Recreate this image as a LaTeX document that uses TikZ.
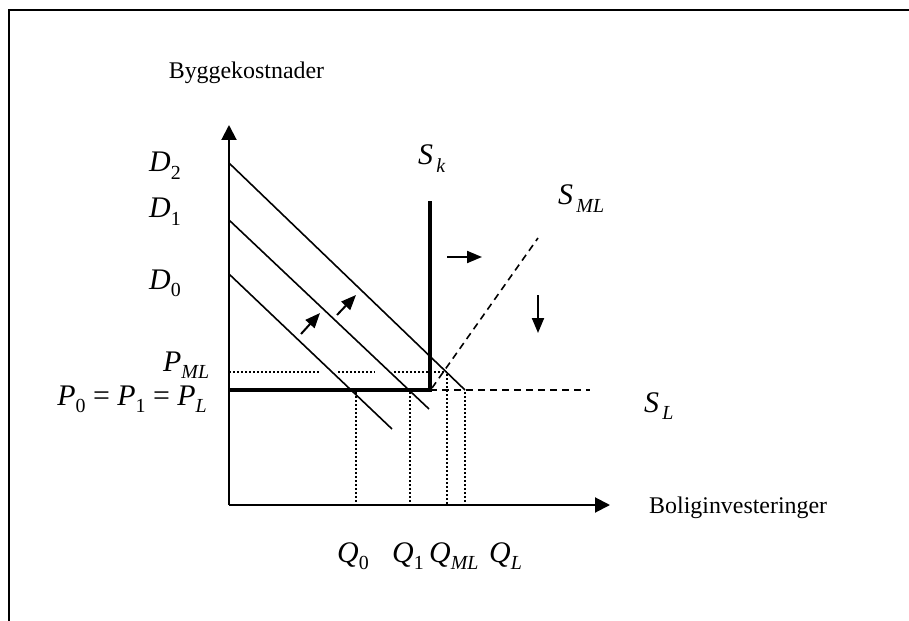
\documentclass[tikz,border=0pt]{standalone}
\usepackage{fontspec}
\setmainfont{Liberation Serif}
\usetikzlibrary{arrows.meta}
\newcommand{\mlab}[2]{{\fontsize{30}{30}\selectfont\itshape #1}\raisebox{-7.5bp}{\fontsize{20}{20}\selectfont #2}}
\newcommand{\eqsign}{{\fontsize{30}{30}\selectfont\ =\ }}
\begin{document}
\begin{tikzpicture}[x=1bp,y=-1bp,
  frameline/.style={line width=2bp},
  axisline/.style={line width=2bp,-{Triangle[length=15bp,width=15bp]}},
  demand/.style={line width=1.6bp},
  supplythick/.style={line width=4bp,line join=miter},
  dashline/.style={line width=1.6bp,dash pattern=on 7bp off 5bp},
  dotline/.style={line width=1.5bp,dash pattern=on 1.5bp off 2.5bp},
  shiftarrow/.style={line width=2bp,-{Triangle[length=15bp,width=12bp]}},
  lbl/.style={inner sep=0pt,anchor=base west},
  txt/.style={inner sep=0pt,font=\fontsize{24}{24}\selectfont}]
\useasboundingbox (0,0) rectangle (909,621);
% frame
\coordinate (FB) at (8.5,621);
\coordinate (FC) at (8.5,10);
\coordinate (FR) at (909,10);
\draw[frameline] (FB) -- (FC) -- (FR);
% axes
\coordinate (O) at (229,505);
\coordinate (ytip) at (229,125);
\coordinate (xtip) at (610,505);
\draw[axisline] (O) -- (ytip);
\draw[axisline] (O) -- (xtip);
% demand curves
\coordinate (D2a) at (229,163); \coordinate (D2b) at (465,390);
\coordinate (D1a) at (229,220); \coordinate (D1b) at (429,409);
\coordinate (D0a) at (229,274); \coordinate (D0b) at (392,429);
\draw[demand] (D2a) -- (D2b);
\draw[demand] (D1a) -- (D1b);
\draw[demand] (D0a) -- (D0b);
% supply
\coordinate (P0) at (229,390);
\coordinate (K) at (430,390);
\coordinate (Ktop) at (430,201);
\coordinate (SLend) at (590,390);
\coordinate (SMLa) at (432,388);
\coordinate (SMLb) at (538,238);
\draw[dashline] (K) -- (SLend);
\draw[dashline] (SMLa) -- (SMLb);
\draw[supplythick] (P0) -- (K) -- (Ktop);
% dotted guides
\coordinate (PMLa) at (229,372); \coordinate (g1) at (320,372);
\coordinate (g2) at (338,372); \coordinate (g3) at (375,372);
\coordinate (g4) at (394,372); \coordinate (PMLb) at (447,372);
\draw[dotline] (PMLa) -- (g1);
\draw[dotline] (g2) -- (g3);
\draw[dotline] (g4) -- (PMLb);
\coordinate (q0t) at (356,392); \coordinate (q0b) at (356,505);
\coordinate (q1t) at (410,392); \coordinate (q1b) at (410,505);
\coordinate (qmt) at (447,374); \coordinate (qmb) at (447,505);
\coordinate (qlt) at (465,392); \coordinate (qlb) at (465,505);
\draw[dotline] (q0t) -- (q0b);
\draw[dotline] (q1t) -- (q1b);
\draw[dotline] (qmt) -- (qmb);
\draw[dotline] (qlt) -- (qlb);
% shift arrows
\coordinate (a1s) at (447,257); \coordinate (a1e) at (482,257);
\coordinate (a2s) at (538,295); \coordinate (a2e) at (538,333);
\coordinate (a3s) at (301,334); \coordinate (a3e) at (320,313);
\coordinate (a4s) at (337,315); \coordinate (a4e) at (356,295);
\draw[shiftarrow] (a1s) -- (a1e);
\draw[shiftarrow] (a2s) -- (a2e);
\draw[shiftarrow] (a3s) -- (a3e);
\draw[shiftarrow] (a4s) -- (a4e);
% labels
\node[txt,anchor=base] (ylab) at (246.5,79) {Byggekostnader};
\node[txt,anchor=base west] (xlab) at (649,513) {Boliginvesteringer};
\node[lbl] (lD2) at (149,172) {\mlab{D}{2}};
\node[lbl] (lD1) at (149,218) {\mlab{D}{1}};
\node[lbl] (lD0) at (149,289) {\mlab{D}{0}};
\node[lbl] (lPML) at (163,371) {\mlab{P}{\itshape ML}};
\node[lbl,anchor=base east] (lP) at (207,405) {\mlab{P}{0}\eqsign\mlab{P}{1}\eqsign\mlab{P}{\itshape L}};
\node[lbl] (lSk) at (418,165) {\mlab{S}{\itshape\,k}};
\node[lbl] (lSML) at (558,205) {\mlab{S}{\itshape\,ML}};
\node[lbl] (lSL) at (644,412) {\mlab{S}{\itshape\,L}};
\node[lbl] (lQ0) at (337,562) {\mlab{Q}{0}};
\node[lbl] (lQ1) at (392,562) {\mlab{Q}{1}};
\node[lbl] (lQML) at (429,562) {\mlab{Q}{\itshape ML}};
\node[lbl] (lQL) at (489,562) {\mlab{Q}{\itshape L}};
\end{tikzpicture}
\end{document}
